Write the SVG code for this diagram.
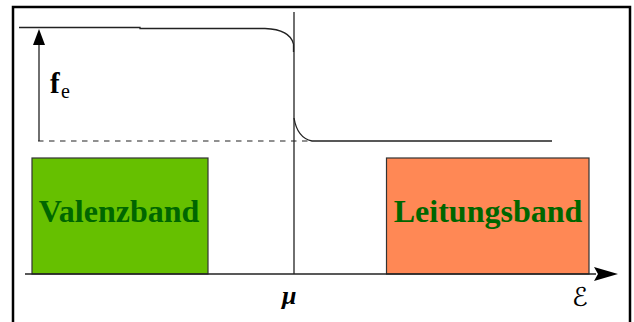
<svg xmlns="http://www.w3.org/2000/svg" width="634" height="322" viewBox="0 0 634 322">
<style>
.ln{fill:none;stroke:#222;stroke-width:1.3}
.band{stroke:#333;stroke-width:1.2}
.bl{font-family:"Liberation Serif",serif;font-weight:bold;font-size:32px;fill:#006600;text-anchor:middle}
.lab{font-family:"Liberation Serif",serif;fill:#000}
</style>
<rect x="0" y="0" width="634" height="322" fill="#fff"/>
<g id="frame">
<path d="M13,330 L13,7 L630,7 L630,330" fill="none" stroke="#000" stroke-width="2.5"/>
</g>
<g id="valenzband">
<rect class="band" x="32" y="158" width="176" height="116" fill="#66C000"/>
<text class="bl" x="119" y="222">Valenzband</text>
</g>
<g id="leitungsband">
<rect class="band" x="386.5" y="158" width="202.5" height="116" fill="#FF8855"/>
<text class="bl" x="488" y="222">Leitungsband</text>
</g>
<g id="connectors">
<path class="ln" d="M19,27.5 L140,27.5 L140,28.5 L265,28.5 C280,29 291,34 293.5,44 L293.5,52"/>
<path class="ln" d="M294,118 C296,130 302,139 312,141 L552,141"/>
<line class="ln" x1="294" y1="12" x2="294" y2="274"/>
<line x1="38" y1="141" x2="312" y2="141" stroke="#222" stroke-width="1.2" stroke-dasharray="5.5,5.5"/>
<line class="ln" x1="39" y1="141" x2="39" y2="44"/>
<polygon points="39,29 45,45 33,45" fill="#000"/>
<line class="ln" x1="25" y1="274" x2="596" y2="274"/>
<polygon points="594,267 618,274 594,281 598,274" fill="#000"/>
</g>
<g id="labels">
<text class="lab" x="50" y="93" font-size="29" font-weight="bold">f</text>
<text class="lab" x="61" y="98" font-size="20">e</text>
<text class="lab" x="282" y="304" font-size="26" font-weight="bold" font-style="italic">μ</text>
<text x="572" y="306" font-family="'DejaVu Serif','DejaVu Sans',serif" font-size="26" font-style="italic" fill="#000">ℰ</text>
</g>
</svg>
